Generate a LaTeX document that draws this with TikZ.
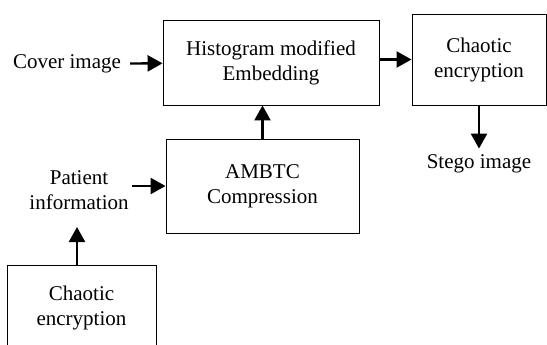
\documentclass[tikz,border=0pt]{standalone}
\usepackage{fontspec}
\setmainfont{Liberation Serif}
\usetikzlibrary{arrows.meta, positioning, calc}

\begin{document}
\begin{tikzpicture}[
    x=1pt, y=-1pt,
    font=\fontsize{21}{25}\selectfont,
    % Styles
    block/.style={draw, line width=0.9pt, rectangle, align=center, inner sep=0pt},
    txt/.style={align=center, inner sep=8pt},
    wire/.style={-{Triangle[length=15pt, width=16pt]}, line width=2.4pt}
]
    \useasboundingbox (0,0) rectangle (547,345);
    \clip (0,0) rectangle (547,345);

    % --- BLOCKS ---
    \node[block, minimum width=216pt, minimum height=85pt] (hist) at (271, 62.5) {Histogram modified\\Embedding};
    \node[block, minimum width=134pt, minimum height=91pt] (enc1) at (479, 59.5) {Chaotic\\encryption};
    \node[block, minimum width=193pt, minimum height=94pt] (ambtc) at (262.5, 186) {AMBTC\\Compression};
    \node[block, minimum width=149pt, minimum height=86pt] (enc2) at (81.5, 308) {Chaotic\\encryption};

    % --- TEXTS ---
    \node[txt, inner sep=9pt] (cover) at (67, 64) {Cover image};
    \node[txt, inner sep=6pt] (stego) at (479, 164) {Stego image};
    \node[txt, inner sep=3pt] (patient) at (79, 190) {Patient\\information};
    \coordinate (pin) at (77, 227);

    % --- CONNECTIONS ---
    \draw[wire] (cover) -- (hist);
    \draw[wire] (hist.east |- enc1.west) -- (enc1.west);
    \draw[wire] (enc1.south) -- (stego.north);
    \draw[wire] (ambtc.north) -- (ambtc.north |- hist.south);
    \draw[wire] (patient.east |- ambtc.west) -- (ambtc.west);
    \draw[wire] (enc2.north -| pin) -- (pin);

\end{tikzpicture}
\end{document}
